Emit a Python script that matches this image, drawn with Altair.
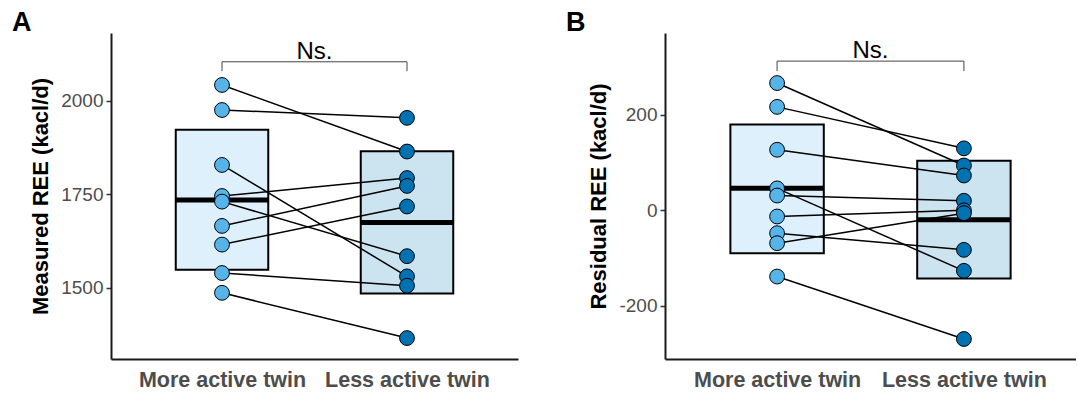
import altair as alt
import pandas as pd

groups = ["More active twin", "Less active twin"]
positions = [1, 2]

# Panel A: measured REE (kcal/d), paired twins (index i = same pair)
a_more = [2042, 1975, 1828, 1745, 1730, 1665, 1615, 1539, 1486]
a_less = [1864, 1954, 1530, 1793, 1584, 1772, 1717, 1505, 1365]
a_box_low = [1548, 1484]
a_box_mid = [1734, 1674]
a_box_high = [1922, 1865]

# Panel B: residual REE (kcal/d)
b_more = [267, 217, 127, 46, 31, -13, -48, -69, -139]
b_less = [94, 130, 73, -127, 20, 0, -83, -6, -270]
b_box_low = [-90, -143]
b_box_mid = [46, -20]
b_box_high = [180, 104]

point_colors = ["#56B4E9", "#0072B2"]
box_fills = ["#DDF0FB", "#CCE3F0"]

FONT = "Liberation Sans"


def panel(letter, more, less, lows, mids, highs, domain, ticks, ytitle,
          br_low, br_high, width):
    rows = []
    for i, (m, l) in enumerate(zip(more, less)):
        rows.append({"pair": i, "pos": positions[0], "value": m, "fillc": point_colors[0]})
        rows.append({"pair": i, "pos": positions[1], "value": l, "fillc": point_colors[1]})
    pts = pd.DataFrame(rows)
    box = pd.DataFrame({
        "pos": positions,
        "x1": [p - 0.25 for p in positions],
        "x2": [p + 0.25 for p in positions],
        "lo": lows, "mid": mids, "hi": highs,
        "fillc": box_fills,
    })
    br = pd.DataFrame({
        "bx": [positions[0], positions[0], positions[1], positions[1]],
        "by": [br_low, br_high, br_high, br_low],
        "o": [0, 1, 2, 3],
    })
    ns = pd.DataFrame({"bx": [(positions[0] + positions[1]) / 2], "by": [br_high], "t": ["Ns."]})
    lab = pd.DataFrame({"t": [letter]})

    xs = alt.Scale(domain=[0.4, 2.6], nice=False, zero=False)
    ys = alt.Scale(domain=domain, nice=False, zero=False)
    xaxis = alt.Axis(
        values=positions,
        labelExpr="datum.value == 1 ? '%s' : '%s'" % (groups[0], groups[1]),
        ticks=False, grid=False, title=None,
        labelFont=FONT, labelFontSize=21.5, labelFontWeight="bold", labelColor="#4D4D4D",
        labelPadding=10, domainColor="#1A1A1A", domainWidth=2,
    )
    yaxis = alt.Axis(
        values=ticks, grid=False, title=ytitle,
        labelExpr="'' + datum.value",
        titleFont=FONT, titleFontSize=22, titleFontWeight="bold", titleColor="black",
        titlePadding=8,
        labelFont=FONT, labelFontSize=19, labelColor="#4D4D4D", labelPadding=3,
        tickColor="#333333", tickSize=5, tickWidth=1.5,
        domainColor="#1A1A1A", domainWidth=2,
    )

    rect = alt.Chart(box).mark_rect(stroke="black", strokeWidth=2).encode(
        x=alt.X("x1:Q", scale=xs, axis=xaxis),
        x2="x2:Q",
        y=alt.Y("lo:Q", scale=ys, axis=yaxis),
        y2="hi:Q",
        fill=alt.Fill("fillc:N", scale=None),
    )
    med = alt.Chart(box).mark_rule(color="black", strokeWidth=5).encode(
        x="x1:Q", x2="x2:Q", y="mid:Q"
    )
    lines = alt.Chart(pts).mark_line(color="black", strokeWidth=1.5).encode(
        x="pos:Q", y="value:Q", detail="pair:N"
    )
    points = alt.Chart(pts).mark_circle(size=220, stroke="black", strokeWidth=1, opacity=1).encode(
        x="pos:Q", y="value:Q", fill=alt.Fill("fillc:N", scale=None)
    )
    bracket = alt.Chart(br).mark_line(color="#444444", strokeWidth=1).encode(
        x="bx:Q", y="by:Q", order="o:Q"
    )
    ns_text = alt.Chart(ns).mark_text(font=FONT, fontSize=24, color="black",
                                      baseline="alphabetic", dy=-3).encode(
        x="bx:Q", y="by:Q", text="t:N"
    )
    letter_text = alt.Chart(lab).mark_text(font=FONT, fontSize=27, fontWeight="bold",
                                           color="black", align="left",
                                           baseline="alphabetic").encode(
        x=alt.value(-99), y=alt.value(-2), text="t:N"
    )
    return alt.layer(rect, med, lines, points, bracket, ns_text, letter_text).properties(
        width=width, height=326
    )


chart_a = panel("A", a_more, a_less, a_box_low, a_box_mid, a_box_high,
                [1309, 2181], [1500, 1750, 2000], "Measured REE (kacl/d)",
                2079, 2104, 407)
chart_b = panel("B", b_more, b_less, b_box_low, b_box_mid, b_box_high,
                [-312, 372], [-200, 0, 200], "Residual REE (kacl/d)",
                292, 313, 411)

chart = alt.hconcat(chart_a, chart_b, spacing=48).properties(
    padding={"left": 12, "top": 9, "right": 0, "bottom": 0}
).configure_view(stroke=None)

chart.save("out.html", embed_options={"renderer": "svg", "actions": False})
